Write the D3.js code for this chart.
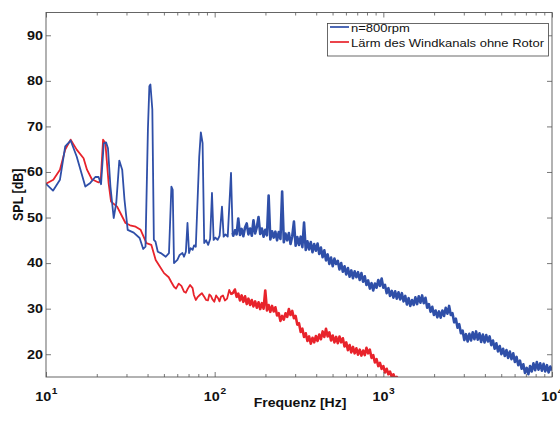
<!DOCTYPE html>
<html><head><meta charset="utf-8">
<script src="https://cdn.jsdelivr.net/npm/d3@7"></script>
<style>body{margin:0;background:#fff}svg{display:block}</style>
</head><body><svg id="c" width="560" height="421"></svg>
<script>
// ---------- data ----------
const xTickHz = [10, 100, 1000, 10000];
const xTickExp = ["1", "2", "3", "4"];
const yTicks = [20, 30, 40, 50, 60, 70, 80, 90];
const seriesNames = ["n=800rpm", "Lärm des Windkanals ohne Rotor"];
const xLabel = "Frequenz [Hz]";
const yLabel = "SPL [dB]";

// low-frequency part, n=800rpm
const blueLfHz = [10,11.0,12.1,13.0,14.0,15.2,17.1,18.3,19.6,20.5,21.2,22.0,22.7,23.3,24.1,25.2,26.1,27.2,28.3,29.2,30.5,33.1,35.9,37.7,38.9,40.2,41.0,41.6,42.7,43.6,44.6,46.0,47.9,51.3,53.6,55.4,56.4,57.4,60.1,62.0,64.4,65.8,67.5,69.0,70.5,72.0,74.0,75.5,77.3,81.0,82.8,84.8,86.7,89.0,91.5,94.0,96.4,98.6,101,104.1,107,110.5,113.0,116,119.5,125.0,127.8];
const blueLfDb = [57.4,55.9,58.3,65.6,66.9,63.4,56.8,57.6,58.9,58.9,57.3,66.3,66.5,65.2,56.8,49.9,53.2,62.5,60.5,53.9,47.3,46.7,45.5,43.1,43.6,69.3,78.8,79.2,73.7,45.1,44.7,42.5,42.2,41.4,42.2,56.8,56.1,40.0,40.7,41.8,42.2,41.4,42.5,48.8,42.2,43.3,42.9,43.9,43.6,63.4,68.7,66.3,44.4,45.0,44.0,45.3,55.4,45.1,45.6,45.1,46.0,52.4,45.8,46.3,45.8,59.8,46.6];

// low-frequency part, wind tunnel without rotor
const redLfHz = [10,11.05,12.1,13.0,14.0,15.2,16.7,17.5,18.7,20.5,21.1,21.8,22.5,23.5,24.3,26.4,27.6,29.6,31.5,34.0,36.4,39.4,42.1,44.7,47.4,50.1,53.4,55.4,57.4,59.0,61.2,63.5,65.9,67.5,69.3,71.5,74.0,75.3,77.3,79.5,81.6,84,86.7,89,91.2,93,95,97.2,99.5,102,104.8,106.8,109,112,115,118.5,122,125];
const redLfDb = [57.4,58.3,60.5,64.9,67.1,64.9,63.0,60.5,58.4,57.7,58.0,67.1,66.3,57.6,53.5,52.4,51.0,48.8,48.3,48.0,47.3,44.4,44.0,40.7,39.2,37.8,36.9,35.8,34.8,34.4,35.5,35.0,33.7,33.5,34.4,35.2,34.5,33.0,31.9,32.6,33.0,33.4,32.6,31.9,31.8,33.1,32.8,32.0,31.5,32.9,32.3,31.6,32.6,32.9,31.8,32.2,34.1,33.2];

// high-frequency (noisy) part: frequency bins
const hfHz = [128.8,131.8,134.9,138.0,141.3,144.5,147.9,151.4,154.9,158.5,162.2,166.0,169.8,173.8,177.8,182.0,186.2,190.5,195.0,199.5,
204.2,208.9,213.8,218.8,223.9,229.1,234.4,239.9,245.5,251.2,257.0,263.0,269.2,275.4,281.8,288.4,295.1,302.0,309.0,316.2,
323.6,331.1,338.8,346.7,354.8,363.1,371.5,380.2,389.0,398.1,407.4,416.9,426.6,436.5,446.7,457.1,467.7,478.6,489.8,501.2,
512.9,524.8,537.0,549.5,562.3,575.4,588.8,602.6,616.6,631.0,645.7,660.7,676.1,691.8,707.9,724.4,741.3,758.6,776.2,794.3,
812.8,831.8,851.1,871.0,891.3,912.0,933.3,955.0,977.2,1000,1023,1047,1072,1096,1122,1148,1175,1202,1230,1259,
1288,1318,1349,1380,1413,1445,1479,1514,1549,1585,1622,1660,1698,1738,1778,1820,1862,1905,1950,1995,
2042,2089,2138,2188,2239,2291,2344,2399,2455,2512,2570,2630,2692,2754,2818,2884,2951,3020,3090,3162,
3236,3311,3388,3467,3548,3631,3715,3802,3890,3981,4074,4169,4266,4365,4467,4571,4677,4786,4898,5012,
5129,5248,5370,5495,5623,5754,5888,6026,6166,6310,6457,6607,6761,6918,7079,7244,7413,7586,7762,7943,
8128,8318,8511,8710,8913,9120,9333,9550,9772,10000];
const blueHfDb = [46.0,47.2,46.3,49.8,46.2,47.5,45.9,47.8,48.7,46.3,47.6,46.0,49.4,46.5,47.9,50.1,46.4,47.6,45.8,47.3,
46.1,54.8,45.2,47.0,45.6,46.9,45.0,46.8,45.3,55.7,44.6,46.5,45.0,46.6,44.2,45.9,49.1,43.8,45.7,44.0,
45.8,43.5,48.9,42.9,44.8,43.0,44.6,42.4,44.2,42.7,44.3,42.0,43.4,41.3,42.8,40.6,41.9,39.8,41.2,39.3,
41.0,39.8,40.5,38.6,40.0,38.1,39.3,37.5,38.9,37.0,38.4,36.7,38.2,36.9,38.0,36.3,37.8,35.9,37.1,35.2,
36.2,34.4,35.6,34.0,35.5,34.6,36.3,35.0,36.6,34.6,35.2,33.4,34.5,32.8,33.9,32.4,33.8,32.2,33.6,32.0,
33.4,31.6,32.8,30.9,32.3,30.6,31.9,30.8,32.5,31.0,32.7,31.3,32.9,31.2,32.4,30.2,31.0,29.3,30.4,28.6,
29.6,28.1,29.4,28.0,29.6,28.4,30.2,28.9,30.6,28.6,29.0,27.0,27.8,25.8,26.6,24.6,25.2,23.1,24.4,22.8,
24.5,23.0,24.8,23.3,25.0,23.2,24.6,22.7,24.3,22.6,24.2,22.8,23.9,22.0,23.0,21.2,22.4,20.6,21.8,20.0,
21.2,19.6,20.9,19.2,20.6,18.9,20.2,18.3,19.4,17.6,18.6,16.8,17.8,15.9,17.0,15.6,17.4,16.2,18.0,16.5,
18.3,16.6,18.0,16.4,17.9,16.2,17.6,16.0,17.3,16.4];
const redHfDb = [33.5,34.2,32.6,33.3,31.8,32.9,31.5,32.7,31.0,32.2,30.8,31.9,30.5,31.6,30.2,31.4,29.9,31.2,30.0,34.0,
29.6,30.8,29.3,30.6,29.4,30.3,28.5,29.0,27.3,28.4,27.6,29.0,28.2,29.9,28.6,29.5,27.9,28.4,26.5,26.8,
24.9,25.6,23.8,24.6,22.9,23.9,22.3,23.6,22.6,24.0,22.9,24.3,23.3,25.0,23.8,25.6,23.9,24.8,23.0,24.1,
22.6,23.8,22.4,23.9,22.6,23.5,21.7,22.6,20.9,22.0,20.4,21.6,20.2,21.3,19.9,21.0,19.7,20.8,19.8,21.4,
20.2,21.0,19.2,19.8,18.2,18.9,17.4,18.1,16.8,17.4,16.0,16.8,15.6,16.2,15.0,15.6,14.6,15.0,14.2,14.0];

// ---------- build ----------
const series = [
  {name: seriesNames[0], color: "#2f4fa8",
   lf: blueLfHz.map((f, i) => [f, blueLfDb[i]]),
   hf: hfHz.map((f, i) => [f, blueHfDb[i]])},
  {name: seriesNames[1], color: "#e8232b",
   lf: redLfHz.map((f, i) => [f, redLfDb[i]]),
   hf: redHfDb.map((v, i) => [hfHz[i], v])}
];

const L = 46, R = 552, T = 12.5, B = 377;
const FONT = "'Liberation Sans', Arial, Helvetica, sans-serif";
const SX = 1.2;
const svg = d3.select("#c");
const x = d3.scaleLog().domain([10, 10000]).range([L, R]);
const y = d3.scaleLinear().domain([15, 95]).range([B, T]);

svg.append("rect").attr("width", 560).attr("height", 421).attr("fill", "#fff");
svg.append("defs").append("clipPath").attr("id", "clip")
  .append("rect").attr("x", L).attr("y", T).attr("width", R - L).attr("height", B - T);

// data lines
const line = d3.line().x(d => x(d[0])).y(d => y(d[1]));
const plot = svg.append("g").attr("clip-path", "url(#clip)");
series.slice().reverse().forEach(s => {
  plot.append("path").datum(s.lf.concat([s.hf[0]])).attr("d", line)
    .attr("fill", "none").attr("stroke", s.color)
    .attr("stroke-width", 1.8).attr("stroke-linejoin", "round");
  plot.append("path").datum([s.lf[s.lf.length - 1]].concat(s.hf)).attr("d", line)
    .attr("fill", "none").attr("stroke", s.color)
    .attr("stroke-width", 2.6).attr("stroke-linejoin", "round");
});

// frame + ticks
const minorHz = [];
[10, 100, 1000].forEach(d => { for (let k = 2; k <= 9; k++) minorHz.push(d * k); });
const tickCol = "#555";
function styleAxis(g) {
  g.select(".domain").remove();
  g.selectAll("line").attr("stroke", tickCol).attr("stroke-width", 0.8);
  g.selectAll("text").remove();
}
svg.append("g").attr("transform", `translate(0,${B})`).call(d3.axisBottom(x).tickValues(xTickHz).tickSize(-5)).call(styleAxis);
svg.append("g").attr("transform", `translate(0,${B})`).call(d3.axisBottom(x).tickValues(minorHz).tickSize(-3)).call(styleAxis);
svg.append("g").attr("transform", `translate(0,${T})`).call(d3.axisTop(x).tickValues(xTickHz).tickSize(-5)).call(styleAxis);
svg.append("g").attr("transform", `translate(0,${T})`).call(d3.axisTop(x).tickValues(minorHz).tickSize(-3)).call(styleAxis);
svg.append("g").attr("transform", `translate(${L},0)`).call(d3.axisLeft(y).tickValues(yTicks).tickSize(-5)).call(styleAxis);
svg.append("g").attr("transform", `translate(${R},0)`).call(d3.axisRight(y).tickValues(yTicks).tickSize(-5)).call(styleAxis);
svg.append("rect").attr("x", L).attr("y", T).attr("width", R - L).attr("height", B - T)
  .attr("fill", "none").attr("stroke", tickCol).attr("stroke-width", 0.9);

// y tick labels
yTicks.forEach(v => {
  svg.append("g").attr("transform", `translate(${L - 3},${y(v) + 4.4}) scale(${SX},1)`)
    .append("text").attr("text-anchor", "end").attr("font-family", FONT)
    .attr("font-weight", "bold").attr("font-size", 12).attr("fill", "#111").text(v);
});
// x tick labels with exponent
xTickHz.forEach((v, i) => {
  const g = svg.append("g").attr("transform", `translate(${x(v)},${B + 23.5}) scale(${SX},1)`);
  g.append("text").attr("x", 4.3).attr("text-anchor", "end").attr("font-family", FONT)
    .attr("font-weight", "bold").attr("font-size", 12).attr("fill", "#111").text("10");
  g.append("text").attr("x", 4.8).attr("y", -7).attr("font-family", FONT)
    .attr("font-weight", "bold").attr("font-size", 8.5).attr("fill", "#111").text(xTickExp[i]);
});
// axis labels
svg.append("g").attr("transform", `translate(${(L + R) / 2 + 1},407) scale(1.17,1)`)
  .append("text").attr("text-anchor", "middle").attr("font-family", FONT)
  .attr("font-weight", "bold").attr("font-size", 12).attr("fill", "#111").text(xLabel);
svg.append("g").attr("transform", `translate(23,${(T + B) / 2}) scale(${SX},1) rotate(-90)`)
  .append("text").attr("text-anchor", "middle").attr("font-family", FONT)
  .attr("font-weight", "bold").attr("font-size", 12.5).attr("fill", "#111").text(yLabel);

// legend
const lg = svg.append("g");
lg.append("rect").attr("x", 327.5).attr("y", 23.5).attr("width", 221).attr("height", 32.5)
  .attr("fill", "#fff").attr("stroke", "#444").attr("stroke-width", 0.8);
series.forEach((s, i) => {
  const ly = 27 + i * 15;
  lg.append("line").attr("x1", 330).attr("x2", 349).attr("y1", ly).attr("y2", ly)
    .attr("stroke", s.color).attr("stroke-width", 1.7);
  lg.append("g").attr("transform", `translate(351,${ly + 4.5}) scale(1.24,1)`)
    .append("text").attr("font-family", FONT).attr("font-size", 10.5).attr("fill", "#111").text(s.name);
});
</script></body></html>
